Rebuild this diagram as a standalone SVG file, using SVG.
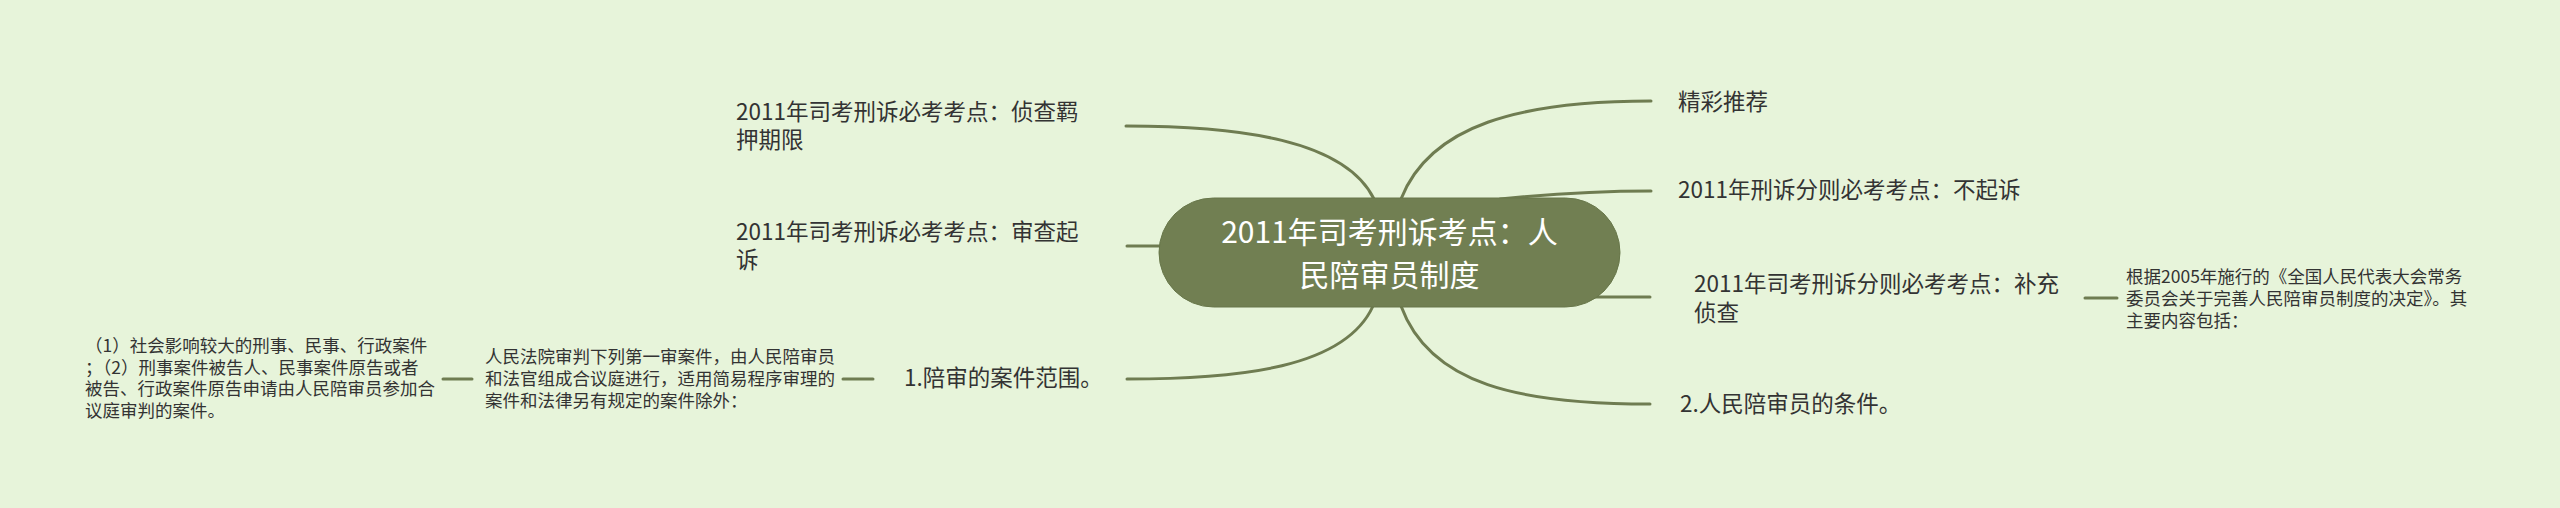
<svg xmlns="http://www.w3.org/2000/svg" width="2560" height="508" viewBox="0 0 2560 508">
<style>
.t{font-family:"Noto Sans CJK SC","Noto Sans",sans-serif;fill:#333333}
.m{font-size:22.5px}
.s{font-size:17.5px}
.c{font-family:"Noto Sans CJK SC","Noto Sans",sans-serif;font-size:30px;fill:#ffffff;text-anchor:middle}
.ln{fill:none;stroke:#6f7c51;stroke-width:3;stroke-linecap:round}
</style>
<rect width="2560" height="508" fill="#e7f4da"/>
<g id="connectors">
<path class="ln" d="M1374,199 C1345,140 1240,126 1126,126"/>
<path class="ln" d="M1160,246 L1127,246"/>
<path class="ln" d="M1373,306 C1345,368 1240,379 1127,379"/>
<path class="ln" d="M1401,199 C1430,125 1520,101 1651,101"/>
<path class="ln" d="M1500,199 C1560,193 1600,191 1651,191"/>
<path class="ln" d="M1596,297 C1615,297 1630,297 1650,297"/>
<path class="ln" d="M1401,306 C1430,385 1520,404 1650,404"/>
<path class="ln" d="M2085,298 L2117,298"/>
<path class="ln" d="M843,379 L873,379"/>
<path class="ln" d="M443,379 L472,379"/>
</g>
<g id="center">
<rect x="1159" y="198" width="461" height="109" rx="54.5" fill="#717f52" stroke="#68774a" stroke-width="1"/>
<text class="c" x="1389.5" y="243">2011年司考刑诉考点：人</text>
<text class="c" x="1389.5" y="286">民陪审员制度</text>
</g>
<g id="n-zhenchajiya">
<text class="t m" x="736" y="120">2011年司考刑诉必考考点：侦查羁</text>
<text class="t m" x="736" y="148">押期限</text>
</g>
<g id="n-shenchaqisu">
<text class="t m" x="736" y="240">2011年司考刑诉必考考点：审查起</text>
<text class="t m" x="736" y="268">诉</text>
</g>
<g id="n-peishenfanwei">
<text class="t m" x="904" y="386">1.陪审的案件范围。</text>
</g>
<g id="n-fanwei-detail">
<text class="t s" x="485" y="363">人民法院审判下列第一审案件，由人民陪审员</text>
<text class="t s" x="485" y="385">和法官组成合议庭进行，适用简易程序审理的</text>
<text class="t s" x="485" y="407">案件和法律另有规定的案件除外：</text>
</g>
<g id="n-fanwei-list">
<text class="t s" x="85" y="352">（1）社会影响较大的刑事、民事、行政案件</text>
<text class="t s" x="85" y="373.5">；（2）刑事案件被告人、民事案件原告或者</text>
<text class="t s" x="85" y="395">被告、行政案件原告申请由人民陪审员参加合</text>
<text class="t s" x="85" y="416.5">议庭审判的案件。</text>
</g>
<g id="n-jingcai">
<text class="t m" x="1678" y="110">精彩推荐</text>
</g>
<g id="n-buqisu">
<text class="t m" x="1678" y="198">2011年刑诉分则必考考点：不起诉</text>
</g>
<g id="n-buchong">
<text class="t m" x="1694" y="292">2011年司考刑诉分则必考考点：补充</text>
<text class="t m" x="1694" y="321">侦查</text>
</g>
<g id="n-buchong-detail">
<text class="t s" x="2126" y="283">根据2005年施行的《全国人民代表大会常务</text>
<text class="t s" x="2126" y="305">委员会关于完善人民陪审员制度的决定》。其</text>
<text class="t s" x="2126" y="327">主要内容包括：</text>
</g>
<g id="n-tiaojian">
<text class="t m" x="1680" y="412">2.人民陪审员的条件。</text>
</g>
</svg>
